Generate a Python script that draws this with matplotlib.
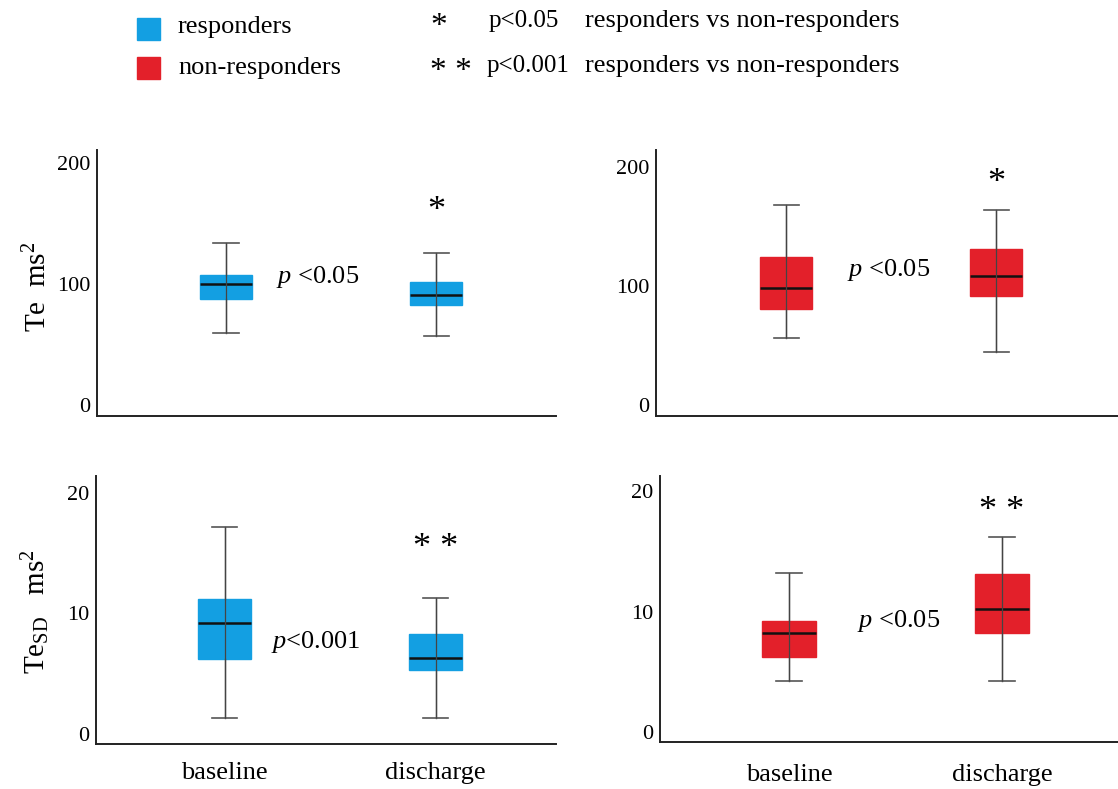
import matplotlib
matplotlib.use("Agg")
import matplotlib.pyplot as plt
from matplotlib.patches import Rectangle

plt.rcParams['font.family'] = ['Liberation Serif', 'DejaVu Serif']
plt.rcParams['mathtext.fontset'] = 'custom'
plt.rcParams['mathtext.rm'] = 'Liberation Serif'
plt.rcParams['mathtext.it'] = 'Liberation Serif:italic'

# box stats: [baseline, discharge]
groups = ['baseline', 'discharge']

te_resp_low = [60, 57]
te_resp_q1 = [88, 83]
te_resp_med = [100, 91]
te_resp_q3 = [108, 102]
te_resp_high = [134, 126]

te_non_low = [56, 45]
te_non_q1 = [81, 92]
te_non_med = [98, 108]
te_non_q3 = [124, 131]
te_non_high = [168, 164]

sd_resp_low = [1.3, 1.3]
sd_resp_q1 = [6.2, 5.3]
sd_resp_med = [9.2, 6.3]
sd_resp_q3 = [11.2, 8.3]
sd_resp_high = [17.2, 11.3]

sd_non_low = [4.2, 4.2]
sd_non_q1 = [6.2, 8.2]
sd_non_med = [8.2, 10.2]
sd_non_q3 = [9.2, 13.1]
sd_non_high = [13.2, 16.2]

blue = '#139FE2'
red = '#E3202A'

fig = plt.figure(figsize=(11.18, 7.89), dpi=100)
W, H = 1118, 789


def make_axes(left, right, top, bottom):
    return fig.add_axes([left / W, 1 - bottom / H, (right - left) / W, (bottom - top) / H])


def draw_panel(ax, low, q1, med, q3, high, color, ylim, yticks, xlim):
    stats = []
    for i in range(len(groups)):
        stats.append(dict(med=med[i], q1=q1[i], q3=q3[i], whislo=low[i],
                          whishi=high[i], fliers=[]))
    ax.bxp(stats, positions=[1, 2], widths=0.25, patch_artist=True,
           showfliers=False,
           boxprops=dict(facecolor=color, edgecolor=color, linewidth=1),
           medianprops=dict(color='#111111', linewidth=1.8),
           whiskerprops=dict(color='#555555', linewidth=1),
           capprops=dict(color='#555555', linewidth=1.2), capwidths=0.12)
    # whisker line shows through the box
    ax.vlines([1, 2], low, high, color='#444444', linewidth=0.9, zorder=3)
    ax.set_xlim(*xlim)
    ax.set_ylim(*ylim)
    ax.set_yticks(yticks)
    ax.tick_params(length=0, labelsize=16, pad=5)
    for s in ['top', 'right']:
        ax.spines[s].set_visible(False)
    for s in ['left', 'bottom']:
        ax.spines[s].set_linewidth(1.4)
        ax.spines[s].set_color('#222222')


ax1 = make_axes(97, 556, 150, 416)
draw_panel(ax1, te_resp_low, te_resp_q1, te_resp_med, te_resp_q3, te_resp_high,
           blue, (-9, 211), [0, 100, 200], (0.386, 2.57))
ax1.set_xticks([])
ax1.text(1.24, 106, r'$\mathit{p}$ <0.05', fontsize=19, va='center', ha='left')
ax1.text(2, 160, '*', fontsize=26, ha='center', va='center')

ax2 = make_axes(656, 1118, 150, 416)
draw_panel(ax2, te_non_low, te_non_q1, te_non_med, te_non_q3, te_non_high,
           red, (-9, 214), [0, 100, 200], (0.38, 2.58))
ax2.set_xticks([])
ax2.text(1.29, 113, r'$\mathit{p}$ <0.05', fontsize=19, va='center', ha='left')
ax2.text(2, 186, '*', fontsize=26, ha='center', va='center')

ax3 = make_axes(96, 556, 476, 744)
draw_panel(ax3, sd_resp_low, sd_resp_q1, sd_resp_med, sd_resp_q3, sd_resp_high,
           blue, (-0.83, 21.4), [0, 10, 20], (0.39, 2.57))
ax3.set_xticks([1, 2])
ax3.set_xticklabels(groups, fontsize=19)
ax3.tick_params(axis='x', pad=13)
ax3.text(1.22, 7.6, r'$\mathit{p}$<0.001', fontsize=19, va='center', ha='left')
ax3.text(2, 15.4, '* *', fontsize=26, ha='center', va='center')

ax4 = make_axes(660, 1118, 476, 742)
draw_panel(ax4, sd_non_low, sd_non_q1, sd_non_med, sd_non_q3, sd_non_high,
           red, (-0.83, 21.25), [0, 10, 20], (0.395, 2.545))
ax4.set_xticks([1, 2])
ax4.set_xticklabels(groups, fontsize=19)
ax4.tick_params(axis='x', pad=16)
ax4.text(1.32, 9.2, r'$\mathit{p}$ <0.05', fontsize=19, va='center', ha='left')
ax4.text(2, 18.3, '* *', fontsize=26, ha='center', va='center')

# y labels
fig.text(38 / W, 1 - 287 / H, r'Te  $\mathrm{ms}^{2}$', rotation=90, fontsize=21,
         ha='center', va='center')
fig.text(36 / W, 1 - 612 / H, r'Te$_{\mathrm{SD}}$   $\mathrm{ms}^{2}$', rotation=90,
         fontsize=21, ha='center', va='center')

# legend at the top
fig.patches.append(Rectangle((137 / W, 1 - 40 / H), 23 / W, 22 / H,
                             transform=fig.transFigure, color=blue))
fig.patches.append(Rectangle((137 / W, 1 - 79 / H), 23 / W, 22 / H,
                             transform=fig.transFigure, color=red))
fig.text(178 / W, 1 - 27 / H, 'responders', fontsize=19, va='center')
fig.text(178 / W, 1 - 68 / H, 'non-responders', fontsize=19, va='center')
fig.text(439 / W, 1 - 27 / H, '*', fontsize=24, ha='center', va='center')
fig.text(451 / W, 1 - 72 / H, '* *', fontsize=24, ha='center', va='center')
fig.text(489 / W, 1 - 21 / H, 'p<0.05', fontsize=18, va='center')
fig.text(487 / W, 1 - 66 / H, 'p<0.001', fontsize=18, va='center')
fig.text(585 / W, 1 - 21 / H, 'responders vs non-responders', fontsize=19, va='center')
fig.text(585 / W, 1 - 66 / H, 'responders vs non-responders', fontsize=19, va='center')

fig.savefig('out.png', dpi=100)
